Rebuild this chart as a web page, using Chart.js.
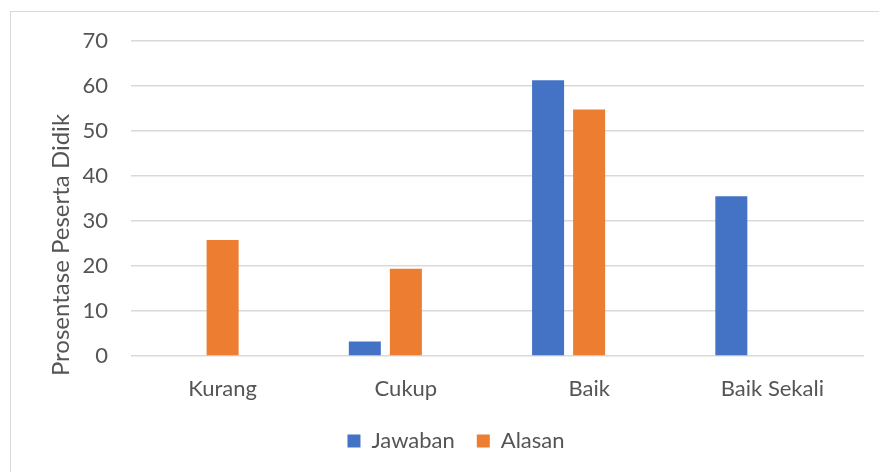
<!DOCTYPE html>
<html>
<head>
<meta charset="utf-8">
<script src="https://cdn.jsdelivr.net/npm/chart.js@4"></script>
<style>
  html, body { margin: 0; padding: 0; overflow: hidden; background: #ffffff; }
  #frame {
    position: absolute; left: 10px; top: 11px;
    width: 2000px; height: 2000px;
    border: 1px solid #d9d9d9; box-sizing: border-box;
  }
  #wrap { position: absolute; left: 0; top: 0; width: 912px; height: 472px; }
</style>
</head>
<body>
<div id="frame"></div>
<div id="wrap"><canvas id="chart"></canvas></div>
<script>
// Chart data
const categories = ["Kurang", "Cukup", "Baik", "Baik Sekali"];
const jawabanValues = [0, 3.2, 61.3, 35.5];
const alasanValues = [25.8, 19.4, 54.8, 0];
// empty third series (keeps the Excel-style bar grouping)
const emptyValues = [null, null, null, null];
const yTickLabels = [0, 10, 20, 30, 40, 50, 60, 70];
const yTitle = "Prosentase Peserta Didik";

const TEXT_COLOR = "#555555";
const GRID_COLOR = "#d9d9d9";
const FONT = "Lato";

// draws the y axis title where Excel puts it
const yTitlePlugin = {
  id: "yTitle",
  afterDraw(chart) {
    const ctx = chart.ctx;
    ctx.save();
    ctx.translate(61, 245);
    ctx.rotate(-Math.PI / 2);
    ctx.font = `24px ${FONT}`;
    ctx.fillStyle = TEXT_COLOR;
    ctx.textAlign = "center";
    ctx.textBaseline = "middle";
    ctx.fillText(yTitle, 0, 0);
    ctx.restore();
  },
};

new Chart(document.getElementById("chart"), {
  type: "bar",
  data: {
    labels: categories,
    datasets: [
      { label: "Jawaban", data: jawabanValues, backgroundColor: "#4472c4" },
      { label: "Alasan", data: alasanValues, backgroundColor: "#ed7d31" },
      { label: "", data: emptyValues, backgroundColor: "rgba(0,0,0,0)" },
    ],
  },
  options: {
    responsive: true,
    maintainAspectRatio: false,
    animation: false,
    categoryPercentage: 0.672,
    barPercentage: 0.78,
    layout: { padding: { top: 41, right: 48, left: 48, bottom: 10 } },
    plugins: {
      legend: {
        position: "bottom",
        labels: {
          color: TEXT_COLOR,
          font: { family: FONT, size: 22 },
          boxWidth: 13,
          boxHeight: 13,
          padding: 22,
          filter: (item) => item.text !== "",
        },
      },
      tooltip: { enabled: false },
    },
    scales: {
      x: {
        grid: { display: false },
        border: { display: false },
        ticks: {
          color: TEXT_COLOR,
          font: { family: FONT, size: 22 },
          padding: 12,
        },
        afterFit: (scale) => { scale.height = 52; },
      },
      y: {
        min: 0,
        max: 70,
        afterBuildTicks: (scale) => {
          scale.ticks = yTickLabels.map((v) => ({ value: v }));
        },
        grid: { color: GRID_COLOR, lineWidth: 1.5, drawTicks: false },
        border: { display: false },
        ticks: {
          color: TEXT_COLOR,
          font: { family: FONT, size: 22 },
          padding: 23,
        },
        afterFit: (scale) => { scale.width = 83; },
      },
    },
  },
  plugins: [yTitlePlugin],
});
</script>
</body>
</html>
